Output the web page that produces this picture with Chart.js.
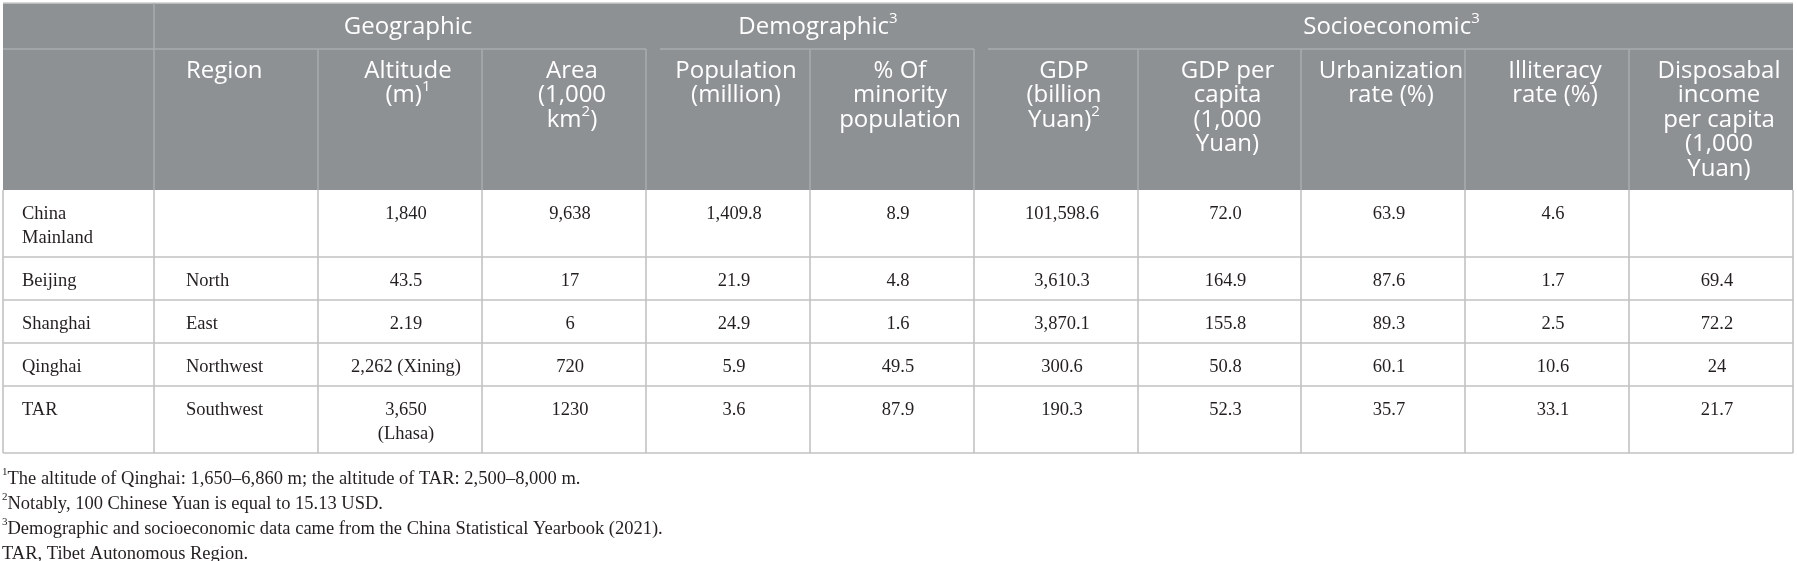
<!DOCTYPE html>
<html>
<head>
<meta charset="utf-8">
<script src="https://cdn.jsdelivr.net/npm/chart.js@4.4.1/dist/chart.umd.min.js"></script>
<style>
  html, body { margin: 0; padding: 0; background: #ffffff; }
  #wrap { width: 1797px; height: 561px; position: relative; }
</style>
</head>
<body>
<div id="wrap"><canvas id="table-chart"></canvas></div>
<script>
// Datos de la tabla ('^' marca el superíndice siguiente, '\n' un salto de línea)
const places = ['China\nMainland', 'Beijing', 'Shanghai', 'Qinghai', 'TAR'];
const regions = ['', 'North', 'East', 'Northwest', 'Southwest'];
const altitude = ['1,840', '43.5', '2.19', '2,262 (Xining)', '3,650\n(Lhasa)'];
const area = ['9,638', '17', '6', '720', '1230'];
const population = ['1,409.8', '21.9', '24.9', '5.9', '3.6'];
const minorityPct = ['8.9', '4.8', '1.6', '49.5', '87.9'];
const gdp = ['101,598.6', '3,610.3', '3,870.1', '300.6', '190.3'];
const gdpPerCapita = ['72.0', '164.9', '155.8', '50.8', '52.3'];
const urbanization = ['63.9', '87.6', '89.3', '60.1', '35.7'];
const illiteracy = ['4.6', '1.7', '2.5', '10.6', '33.1'];
const income = ['', '69.4', '72.2', '24', '21.7'];

const columnHeaders = [
    '', 'Region', 'Altitude\n(m)^1', 'Area\n(1,000\nkm^2)', 'Population\n(million)',
    '% Of\nminority\npopulation', 'GDP\n(billion\nYuan)^2', 'GDP per\ncapita\n(1,000\nYuan)',
    'Urbanization\nrate (%)', 'Illiteracy\nrate (%)', 'Disposabal\nincome\nper capita\n(1,000\nYuan)'
];
const groupLabels = ['Geographic', 'Demographic^3', 'Socioeconomic^3'];
const groupFirstCol = [1, 4, 6];
const groupLastCol = [3, 5, 10];

const footnotes = [
    '^1The altitude of Qinghai: 1,650–6,860 m; the altitude of TAR: 2,500–8,000 m.',
    '^2Notably, 100 Chinese Yuan is equal to 15.13 USD.',
    '^3Demographic and socioeconomic data came from the China Statistical Yearbook (2021).',
    'TAR, Tibet Autonomous Region.'
];

const columns = [places, regions, altitude, area, population, minorityPct,
    gdp, gdpPerCapita, urbanization, illiteracy, income];

// Maquetación (en unidades de las escalas, que cubren todo el lienzo)
const W = 1797, H = 561;
const colEdges = [3, 154, 318, 482, 646, 810, 974, 1138, 1301, 1465, 1629, 1793];
const headTop = 3, groupBottom = 49, headBottom = 190;
const lineStep = 24;
const headFont = '"Open Sans", "Noto Sans", sans-serif';
const bodyFont = '"Liberation Serif", "DejaVu Serif", serif';

// Alturas de filas según el número de líneas
const rowTops = [headBottom];
places.forEach((p, r) => {
    const lines = Math.max(...columns.map(c => c[r].split('\n').length));
    rowTops.push(rowTops[r] + 19 + lineStep * lines);
});

// Un punto invisible por celda, anclado en el centro de la columna
const cellPoints = [];
columns.forEach((col, c) => {
    col.forEach((txt, r) => {
        cellPoints.push({ x: (colEdges[c] + colEdges[c + 1]) / 2, y: rowTops[r], col: c, row: r, text: txt });
    });
});

function splitRich(str) {
    const out = [];
    let buf = '';
    for (let i = 0; i < str.length; i++) {
        if (str[i] === '^') {
            if (buf) out.push({ t: buf, sup: false });
            buf = '';
            out.push({ t: str[i + 1], sup: true });
            i++;
        } else {
            buf += str[i];
        }
    }
    if (buf) out.push({ t: buf, sup: false });
    return out;
}

function drawRich(ctx, str, x, y, align, size, family, color) {
    const segs = splitRich(str);
    const supSize = Math.round(size * 0.62);
    let total = 0;
    segs.forEach(s => {
        ctx.font = (s.sup ? supSize : size) + 'px ' + family;
        s.w = ctx.measureText(s.t).width;
        total += s.w;
    });
    let cx = align === 'center' ? x - total / 2 : x;
    ctx.fillStyle = color;
    ctx.textAlign = 'left';
    ctx.textBaseline = 'middle';
    segs.forEach(s => {
        ctx.font = (s.sup ? supSize : size) + 'px ' + family;
        ctx.fillText(s.t, cx, s.sup ? y - size * 0.36 : y);
        cx += s.w;
    });
}

function hLine(ctx, x1, x2, y, color, w) {
    ctx.strokeStyle = color;
    ctx.lineWidth = w;
    ctx.beginPath();
    ctx.moveTo(x1, y);
    ctx.lineTo(x2, y);
    ctx.stroke();
}

function vLine(ctx, x, y1, y2, color, w) {
    ctx.strokeStyle = color;
    ctx.lineWidth = w;
    ctx.beginPath();
    ctx.moveTo(x, y1);
    ctx.lineTo(x, y2);
    ctx.stroke();
}

const tablePlugin = {
    id: 'tableDraw',
    afterDraw(chart) {
        const ctx = chart.ctx;
        const xs = chart.scales.x, ys = chart.scales.y;
        const px = v => xs.getPixelForValue(v);
        const py = v => ys.getPixelForValue(v);
        const left = px(colEdges[0]), right = px(colEdges[colEdges.length - 1]);
        ctx.save();

        // Cabecera gris
        ctx.fillStyle = '#8e9194';
        ctx.fillRect(left, py(headTop), right - left, py(headBottom) - py(headTop));
        hLine(ctx, left, right, py(headTop), '#c9ccc9', 1.5);
        const headLine = '#a9acae';

        // Línea bajo los grupos, con huecos en los cambios de grupo
        const gaps = groupFirstCol.slice(1).map(c => colEdges[c]);
        let start = colEdges[0];
        gaps.forEach(g => {
            hLine(ctx, px(start), px(g), py(groupBottom), headLine, 1.5);
            start = g + 14;
        });
        hLine(ctx, px(start), right, py(groupBottom), headLine, 1.5);

        vLine(ctx, px(colEdges[1]), py(headTop), py(headBottom), headLine, 1.5);
        for (let c = 2; c < colEdges.length - 1; c++) {
            vLine(ctx, px(colEdges[c]), py(groupBottom), py(headBottom), headLine, 1.5);
        }

        // Títulos de grupo
        groupLabels.forEach((label, g) => {
            const cx = (colEdges[groupFirstCol[g]] + colEdges[groupLastCol[g] + 1]) / 2 + 8;
            drawRich(ctx, label, px(cx), py(27), 'center', 24, headFont, '#ffffff');
        });

        // Títulos de columna
        columnHeaders.forEach((label, c) => {
            label.split('\n').forEach((line, i) => {
                const y = py(groupBottom + 22 + i * 24.5);
                if (c === 1) {
                    drawRich(ctx, line, px(colEdges[c] + 32), y, 'left', 24, headFont, '#ffffff');
                } else {
                    const cx = (colEdges[c] + colEdges[c + 1]) / 2 + 8;
                    drawRich(ctx, line, px(cx), y, 'center', 24, headFont, '#ffffff');
                }
            });
        });

        // Rejilla del cuerpo
        const bodyLine = '#c2c2c2';
        colEdges.forEach(x => vLine(ctx, px(x), py(headBottom), py(rowTops[rowTops.length - 1]), bodyLine, 1.6));
        rowTops.slice(1).forEach(y => hLine(ctx, left, right, py(y), bodyLine, 1.6));

        // Celdas
        chart.data.datasets[0].data.forEach(p => {
            p.text.split('\n').forEach((line, i) => {
                const y = py(p.y + 24 + i * lineStep);
                if (p.col === 0) {
                    drawRich(ctx, line, px(colEdges[0] + 19), y, 'left', 18.5, bodyFont, '#231f20');
                } else if (p.col === 1) {
                    drawRich(ctx, line, px(colEdges[1] + 32), y, 'left', 18.5, bodyFont, '#231f20');
                } else {
                    drawRich(ctx, line, px(p.x + 6), y, 'center', 18.5, bodyFont, '#231f20');
                }
            });
        });

        // Notas al pie
        footnotes.forEach((note, i) => {
            drawRich(ctx, note, px(2), py(rowTops[rowTops.length - 1] + 26 + i * 25), 'left', 18.5, bodyFont, '#231f20');
        });

        ctx.restore();
    }
};

new Chart(document.getElementById('table-chart'), {
    type: 'scatter',
    data: {
        datasets: [{
            data: cellPoints,
            pointRadius: 0,
            pointHoverRadius: 0
        }]
    },
    options: {
        responsive: true,
        maintainAspectRatio: false,
        animation: false,
        layout: { padding: 0 },
        plugins: {
            legend: { display: false },
            tooltip: { enabled: false }
        },
        scales: {
            x: { type: 'linear', min: 0, max: W, display: false },
            y: { type: 'linear', min: 0, max: H, reverse: true, display: false }
        }
    },
    plugins: [tablePlugin]
});
</script>
</body>
</html>
